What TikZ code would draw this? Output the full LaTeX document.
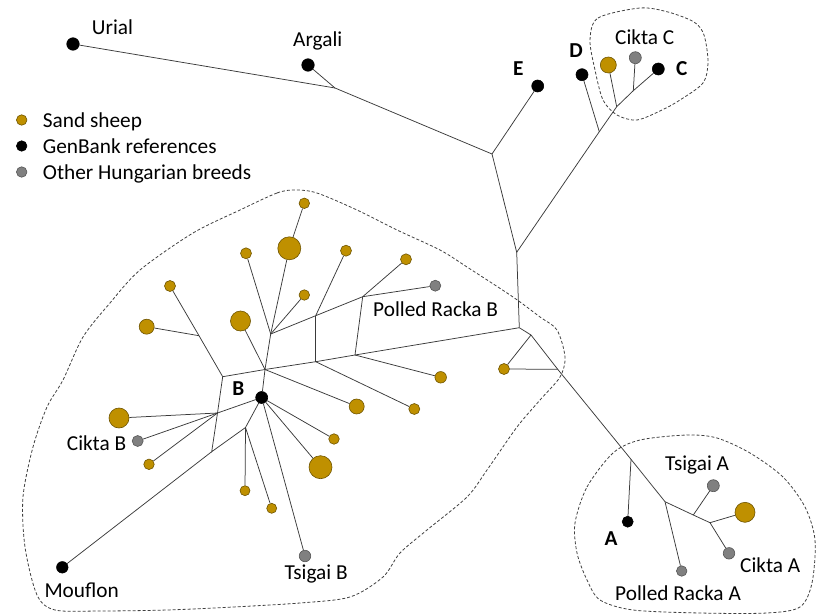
\documentclass[tikz,border=0pt]{standalone}
\usepackage{fontspec}
\setmainfont{Carlito}
\definecolor{sandc}{HTML}{BF9000}
\definecolor{sandd}{HTML}{6E5400}
\definecolor{greyc}{HTML}{808080}
\definecolor{greyd}{HTML}{555555}
\definecolor{linec}{HTML}{3A3A3A}
\definecolor{cloudc}{HTML}{404040}
\begin{document}
\begin{tikzpicture}[x=1pt,y=-1pt,
  dotbase/.style={circle,inner sep=0pt,line width=0.6pt},
  sanddot/.style={dotbase,fill=sandc,draw=sandd,minimum size=#1},
  sanddot/.default=11pt,
  greydot/.style={dotbase,fill=greyc,draw=greyd,minimum size=#1},
  greydot/.default=11pt,
  blackdot/.style={dotbase,fill=black,draw=black,minimum size=#1},
  blackdot/.default=12pt,
  edge/.style={draw=linec,line width=0.75pt},
  lbl/.style={inner sep=0pt,anchor=base west,font=\fontsize{21.3}{25}\selectfont},
  blbl/.style={inner sep=0pt,anchor=base,font=\fontsize{21.3}{25}\selectfont\bfseries},
  cloudline/.style={draw=cloudc,dash pattern=on 3pt off 2pt,line width=0.8pt}
]
\useasboundingbox (0,0) rectangle (819,615);

% clouds
\draw[cloudline] plot[smooth cycle] coordinates {(295,190) (277,193) (240,210) (193,233) (140,270) (110,303) (83,337) (63,380) (47,407) (33,447) (23,497) (25,547) (37,595) (55,610) (100,611) (167,610) (233,607) (300,603) (350,597) (383,577) (400,553) (427,530) (467,497) (487,470) (517,427) (540,400) (560,377) (565,357) (557,330) (540,317) (513,297) (467,267) (440,250) (397,230) (357,210) (317,193)};
\draw[cloudline] plot[smooth cycle] coordinates {(575,523) (587,487) (613,453) (640,440) (687,435) (717,438) (750,453) (783,477) (805,507) (815,540) (812,583) (800,607) (767,613) (700,613) (633,610) (600,600) (587,580) (577,553)};
\draw[cloudline] plot[smooth cycle] coordinates {(590,40) (598,18) (640,8) (668,12) (694,22) (704,35) (708,62) (703,83) (680,100) (662,110) (637,120) (617,115) (603,100) (595,70)};

% junctions
\coordinate (j1) at (335,88);
\coordinate (j2) at (492,154);
\coordinate (j3) at (516.7,252.3);
\coordinate (j4) at (599.3,131.7);
\coordinate (j5) at (616.7,106.7);
\coordinate (j6) at (633.3,90.7);
\coordinate (j7) at (519.3,327.7);
\coordinate (j8) at (531,335);
\coordinate (j8b) at (557.7,369.3);
\coordinate (j9) at (631,459.3);
\coordinate (j10) at (665,501.7);
\coordinate (j11) at (693.3,515);
\coordinate (j12) at (710,522.7);
\coordinate (n1) at (315.7,315.7);
\coordinate (n2) at (362.7,296.7);
\coordinate (n3) at (355,355);
\coordinate (n4) at (315.7,361.7);
\coordinate (n5) at (265,369.5);
\coordinate (n6) at (222.7,376.7);
\coordinate (n7) at (217.5,413);
\coordinate (n8) at (211.7,451.7);
\coordinate (n9) at (245.5,427.5);
\coordinate (jb1) at (270.7,334);
\coordinate (jl) at (199,335.7);

% leaves, top
\node[blackdot=12.5pt] (urial) at (73,44) {};
\node[blackdot=12.5pt] (argali) at (308,65) {};
\node[blackdot] (edot) at (537.7,86) {};
\node[blackdot] (ddot) at (582,74.7) {};
\node[sanddot=16pt] (csand) at (608.3,65) {};
\node[greydot=12pt] (cgrey) at (635.3,57.7) {};
\node[blackdot] (cdot) at (658.3,69) {};

% cluster A
\node[sanddot] (s504) at (504,369) {};
\node[blackdot=11pt] (adot) at (627.7,521.7) {};
\node[greydot=10.5pt] (pra) at (681.7,571) {};
\node[greydot=12pt] (tsa) at (713.3,485.7) {};
\node[sanddot=20pt] (bigsa) at (745,512.3) {};
\node[greydot=11.5pt] (cka) at (729,553.3) {};

% cluster B
\node[sanddot=10.5pt] (s304t) at (304.3,203.3) {};
\node[sanddot=23pt] (big289) at (289.3,248.3) {};
\node[sanddot] (s246) at (246,253.3) {};
\node[sanddot=10.5pt] (s304) at (304.3,295) {};
\node[sanddot] (s346) at (346,250.7) {};
\node[sanddot] (s406) at (406,259.3) {};
\node[greydot] (prb) at (435.3,285.7) {};
\node[sanddot=11.5pt] (s441) at (440.7,377.3) {};
\node[sanddot] (s414) at (414.3,409) {};
\node[sanddot=15pt] (s357) at (356.7,406.5) {};
\node[sanddot=20pt] (s240) at (240.5,321) {};
\node[sanddot] (s170) at (170,286) {};
\node[sanddot=15pt] (s147) at (146.7,326.7) {};
\node[sanddot=20pt] (s119) at (119,418) {};
\node[greydot] (ckb) at (137.7,441) {};
\node[sanddot=10.5pt] (s149) at (149,464.3) {};
\node[blackdot] (bdot) at (261.7,397.5) {};
\node[sanddot=10pt] (s245) at (245,490.7) {};
\node[sanddot=10pt] (s272) at (271.7,508.3) {};
\node[greydot=11.5pt] (tsb) at (305,556) {};
\node[sanddot=23pt] (s320) at (320.5,467.2) {};
\node[sanddot=10.5pt] (s334) at (334,439) {};
\node[blackdot=11.5pt] (mouflon) at (62.3,567.3) {};

% edges
\draw[edge] (urial) -- (j1) -- (j2) -- (j3) -- (j7);
\draw[edge] (argali) -- (j1);
\draw[edge] (j2) -- (edot);
\draw[edge] (j3) -- (j4) -- (j5) -- (j6) -- (cdot);
\draw[edge] (j4) -- (ddot);
\draw[edge] (j5) -- (csand);
\draw[edge] (j6) -- (cgrey);
\draw[edge] (j7) -- (j8) -- (j8b) -- (j9) -- (j10) -- (j11) -- (j12);
\draw[edge] (j8) -- (s504) -- (j8b);
\draw[edge] (j9) -- (adot);
\draw[edge] (j10) -- (pra);
\draw[edge] (j11) -- (tsa);
\draw[edge] (j12) -- (bigsa);
\draw[edge] (j12) -- (cka);
\draw[edge] (j7) -- (n3) -- (n4) -- (n5) -- (n6) -- (n7) -- (n8) -- (n9) -- (bdot);
\draw[edge] (n2) -- (n3);
\draw[edge] (n1) -- (n4);
\draw[edge] (n1) -- (n2);
\draw[edge] (jb1) -- (n1);
\draw[edge] (jb1) -- (n5) -- (bdot);
\draw[edge] (n7) -- (bdot);
\draw[edge] (jb1) -- (s246);
\draw[edge] (jb1) -- (big289) -- (s304t);
\draw[edge] (jb1) -- (s304);
\draw[edge] (n1) -- (s346);
\draw[edge] (n2) -- (s406);
\draw[edge] (n2) -- (prb);
\draw[edge] (n3) -- (s441);
\draw[edge] (n4) -- (s414);
\draw[edge] (n5) -- (s357);
\draw[edge] (n5) -- (s240);
\draw[edge] (n6) -- (jl) -- (s170);
\draw[edge] (jl) -- (s147);
\draw[edge] (n7) -- (s119);
\draw[edge] (n7) -- (ckb);
\draw[edge] (n7) -- (s149);
\draw[edge] (n9) -- (s245);
\draw[edge] (n9) -- (s272);
\draw[edge] (n8) -- (mouflon);
\draw[edge] (bdot) -- (tsb);
\draw[edge] (bdot) -- (s320);
\draw[edge] (bdot) -- (s334);

% labels
\node[lbl] (lurial) at (91.7,35) {Urial};
\node[lbl] (largali) at (293,46.5) {Argali};
\node[blbl] (le) at (518.3,76) {E};
\node[blbl] (ld) at (576,57.7) {D};
\node[lbl] (lcc) at (615,45) {Cikta C};
\node[blbl] (lc) at (681.7,76) {C};
\node[lbl] (lprb) at (373,316) {Polled Racka B};
\node[blbl] (lb) at (238.3,395) {B};
\node[lbl] (lckb) at (66.7,450) {Cikta B};
\node[lbl] (lmouf) at (44.3,597.3) {Mouflon};
\node[lbl] (ltsb) at (284.3,579) {Tsigai B};
\node[blbl] (la) at (611,545) {A};
\node[lbl] (ltsa) at (665,470) {Tsigai A};
\node[lbl] (lcka) at (740,572.7) {Cikta A};
\node[lbl] (lpra) at (615,600.7) {Polled Racka A};

% legend
\node[sanddot=10.5pt] (leg1) at (21.7,120) {};
\node[blackdot=10.5pt] (leg2) at (21.7,146) {};
\node[greydot=10.5pt] (leg3) at (21.7,172) {};
\node[lbl] (legt1) at (42.7,127.7) {Sand sheep};
\node[lbl] (legt2) at (42.7,153.3) {GenBank references};
\node[lbl] (legt3) at (42.7,179) {Other Hungarian breeds};
\end{tikzpicture}
\end{document}
